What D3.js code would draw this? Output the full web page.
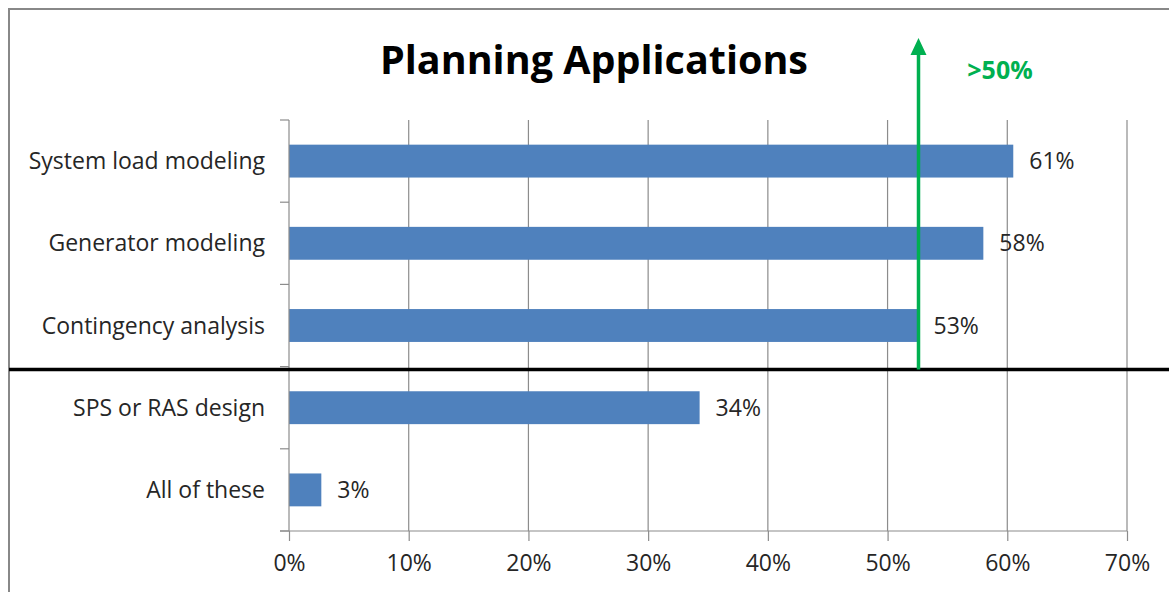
<!DOCTYPE html>
<html>
<head>
<meta charset="utf-8">
<script src="https://cdn.jsdelivr.net/npm/d3@7"></script>
<style>
  body { margin: 0; background: #fff; }
  svg { display: block; font-family: "Open Sans", sans-serif; }
</style>
</head>
<body>
<div id="chart"></div>
<script>
// chart data
const categories = ['System load modeling', 'Generator modeling', 'Contingency analysis', 'SPS or RAS design', 'All of these'];
const values = [60.5, 58.0, 52.5, 34.3, 2.7];
const xTicks = [0, 10, 20, 30, 40, 50, 60, 70];
const thresholdLabel = '>50%';

const w = 1169;
const h = 592;
const plotLeft = 289, plotRight = 1127, plotTop = 120, plotBottom = 531;

const svg = d3.select('#chart')
  .append('svg')
  .attr('width', w)
  .attr('height', h);

// outer frame (cut off at right/bottom)
svg.append('rect')
  .attr('x', 9).attr('y', 9)
  .attr('width', 1300).attr('height', 700)
  .attr('fill', 'none')
  .attr('stroke', '#888')
  .attr('stroke-width', 2);

const xScale = d3.scaleLinear()
  .domain([0, 70])
  .range([plotLeft, plotRight]);

const yScale = d3.scaleBand()
  .domain(categories)
  .range([plotTop, plotBottom])
  .paddingInner(0.6)
  .paddingOuter(0.3);

const band = (plotBottom - plotTop) / categories.length;

// vertical gridlines
svg.selectAll('.grid')
  .data(xTicks.slice(1))
  .enter()
  .append('line')
  .attr('x1', d => xScale(d)).attr('x2', d => xScale(d))
  .attr('y1', plotTop).attr('y2', plotBottom)
  .attr('stroke', '#8c8c8c')
  .attr('stroke-width', 1.2);

// bars
svg.selectAll('.bar')
  .data(values)
  .enter()
  .append('rect')
  .attr('x', xScale(0))
  .attr('y', (d, i) => yScale(categories[i]))
  .attr('width', d => xScale(d) - xScale(0))
  .attr('height', yScale.bandwidth())
  .attr('fill', '#4f81bd');

// value labels
svg.selectAll('.val')
  .data(values)
  .enter()
  .append('text')
  .attr('x', d => xScale(d) + 16)
  .attr('y', (d, i) => yScale(categories[i]) + yScale.bandwidth() / 2)
  .attr('dy', '0.35em')
  .style('font-size', '23px')
  .style('fill', '#262626')
  .text(d => Math.round(d) + '%');

// x axis
const xAxis = d3.axisBottom(xScale)
  .tickValues(xTicks)
  .tickFormat(d => d + '%')
  .tickSize(10)
  .tickPadding(14);

const gx = svg.append('g')
  .attr('transform', 'translate(0,' + plotBottom + ')')
  .call(xAxis);
gx.select('.domain').remove();
gx.append('line')
  .attr('x1', plotLeft - 9).attr('x2', plotRight)
  .attr('stroke', '#8c8c8c').attr('stroke-width', 1.2);
gx.selectAll('.tick line').attr('stroke', '#8c8c8c').attr('stroke-width', 1.2);
gx.selectAll('.tick text')
  .style('font-size', '23px')
  .style('font-family', '"Open Sans", sans-serif')
  .style('fill', '#262626');

// y axis
svg.append('line')
  .attr('x1', plotLeft).attr('x2', plotLeft)
  .attr('y1', plotTop).attr('y2', plotBottom)
  .attr('stroke', '#8c8c8c').attr('stroke-width', 1.2);

svg.selectAll('.ytick')
  .data(d3.range(categories.length + 1))
  .enter()
  .append('line')
  .attr('x1', plotLeft - 9).attr('x2', plotLeft)
  .attr('y1', i => plotTop + i * band).attr('y2', i => plotTop + i * band)
  .attr('stroke', '#8c8c8c').attr('stroke-width', 1.2);

svg.selectAll('.cat')
  .data(categories)
  .enter()
  .append('text')
  .attr('x', plotLeft - 24)
  .attr('y', d => yScale(d) + yScale.bandwidth() / 2)
  .attr('dy', '0.35em')
  .attr('text-anchor', 'end')
  .style('font-size', '23px')
  .style('fill', '#262626')
  .text(d => d);

// title
svg.append('text')
  .attr('x', 594)
  .attr('y', 60)
  .attr('dy', '0.35em')
  .attr('text-anchor', 'middle')
  .style('font-size', '39.5px')
  .style('font-weight', 'bold')
  .style('fill', '#000')
  .text('Planning Applications');

// divider between top 3 and others
const divY = plotTop + 3 * band + 3;
svg.append('line')
  .attr('x1', 9).attr('x2', w)
  .attr('y1', divY).attr('y2', divY)
  .attr('stroke', '#000')
  .attr('stroke-width', 3.5);

// green threshold arrow
const ax = xScale(values[2]) + 1;
svg.append('line')
  .attr('x1', ax).attr('x2', ax)
  .attr('y1', divY).attr('y2', 52)
  .attr('stroke', '#00b050')
  .attr('stroke-width', 3.5);
svg.append('path')
  .attr('d', `M${ax},38 L${ax - 8},55 L${ax + 8},55 Z`)
  .attr('fill', '#00b050');

svg.append('text')
  .attr('x', 1000)
  .attr('y', 70)
  .attr('dy', '0.35em')
  .attr('text-anchor', 'middle')
  .style('font-size', '25px')
  .style('font-weight', 'bold')
  .style('fill', '#00b050')
  .text(thresholdLabel);
</script>
</body>
</html>
